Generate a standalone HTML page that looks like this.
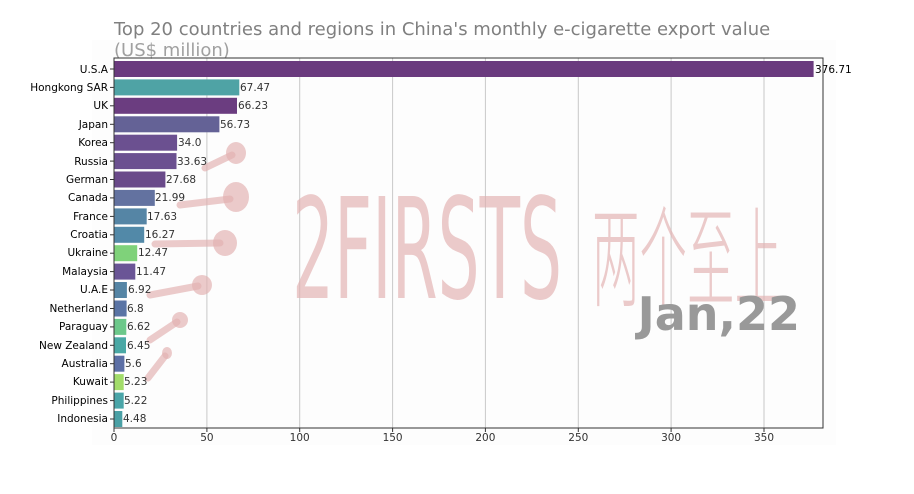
<!DOCTYPE html>
<html><head><meta charset="utf-8"><style>
body{margin:0;background:#fff;width:914px;height:489px;overflow:hidden}
svg{font-family:"DejaVu Sans","Liberation Sans",sans-serif}
</style></head><body>
<svg width="914" height="489" xmlns="http://www.w3.org/2000/svg">
<rect width="914" height="489" fill="#fff"/>
<rect x="92" y="40" width="744" height="405" fill="#fdfdfd"/>
<text x="114" y="35" font-size="18" fill="#808080">Top 20 countries and regions in China's monthly e-cigarette export value</text>
<text x="114" y="56" font-size="18" fill="#a0a0a0">(US$ million)</text>
<g stroke="#c8c8c8" stroke-width="1">
<line x1="206.9" y1="58" x2="206.9" y2="428"/><line x1="299.7" y1="58" x2="299.7" y2="428"/>
<line x1="392.6" y1="58" x2="392.6" y2="428"/><line x1="485.4" y1="58" x2="485.4" y2="428"/>
<line x1="578.3" y1="58" x2="578.3" y2="428"/><line x1="671.1" y1="58" x2="671.1" y2="428"/>
<line x1="764" y1="58" x2="764" y2="428"/>
</g>
<g fill="#e2b0b0" opacity="0.65">
<text x="292" y="298" font-size="140" textLength="270" lengthAdjust="spacingAndGlyphs" font-family="DejaVu Sans Condensed, DejaVu Sans, sans-serif" font-weight="300">2FIRSTS</text>
<text x="592" y="298" font-size="110" textLength="190" lengthAdjust="spacingAndGlyphs" font-family="Noto Sans CJK SC, sans-serif" font-weight="300">两个至上</text>
<ellipse cx="236" cy="153" rx="10" ry="11"/><ellipse cx="236" cy="197" rx="13" ry="15"/>
<ellipse cx="225" cy="243" rx="12" ry="13"/><ellipse cx="202" cy="285" rx="10" ry="10"/>
<ellipse cx="180" cy="320" rx="8" ry="8"/><ellipse cx="167" cy="353" rx="5" ry="6"/>
</g>
<g stroke="#e2b0b0" opacity="0.65" stroke-width="7" stroke-linecap="round">
<line x1="205" y1="168" x2="232" y2="155"/><line x1="180" y1="205" x2="230" y2="199"/>
<line x1="155" y1="244" x2="220" y2="243"/><line x1="150" y1="295" x2="198" y2="286"/>
<line x1="150" y1="340" x2="177" y2="322"/><line x1="148" y1="378" x2="165" y2="356"/>
</g>
<g>
<rect x="114" y="61" width="699.6" height="16" fill="#6a3a7e"/>
<rect x="114" y="79.4" width="125.3" height="16" fill="#4fa3a5"/>
<rect x="114" y="97.8" width="123" height="16" fill="#6b3d80"/>
<rect x="114" y="116.3" width="105.4" height="16" fill="#646296"/>
<rect x="114" y="134.7" width="63.1" height="16" fill="#6b5090"/>
<rect x="114" y="153.1" width="62.5" height="16" fill="#6b5090"/>
<rect x="114" y="171.5" width="51.4" height="16" fill="#6a4a8a"/>
<rect x="114" y="189.9" width="40.8" height="16" fill="#6372a0"/>
<rect x="114" y="208.4" width="32.7" height="16" fill="#5585a5"/>
<rect x="114" y="226.8" width="30.2" height="16" fill="#5289a8"/>
<rect x="114" y="245.2" width="23.2" height="16" fill="#7fd27a"/>
<rect x="114" y="263.6" width="21.3" height="16" fill="#6a5596"/>
<rect x="114" y="282" width="12.9" height="16" fill="#5585a5"/>
<rect x="114" y="300.5" width="12.6" height="16" fill="#5a74a5"/>
<rect x="114" y="318.9" width="12.3" height="16" fill="#6cc88a"/>
<rect x="114" y="337.3" width="12" height="16" fill="#4aa8a5"/>
<rect x="114" y="355.7" width="10.4" height="16" fill="#5c6fa5"/>
<rect x="114" y="374.1" width="9.7" height="16" fill="#a2dc6a"/>
<rect x="114" y="392.6" width="9.7" height="16" fill="#4aa5a8"/>
<rect x="114" y="411" width="8.3" height="16" fill="#4aa0a5"/>
</g>
<g font-size="10.5" fill="#333">
<text x="815" y="73" fill="#000">376.71</text>
<text x="240" y="91">67.47</text><text x="238" y="109">66.23</text><text x="220" y="128">56.73</text>
<text x="178" y="146">34.0</text><text x="177" y="165">33.63</text><text x="166" y="183">27.68</text>
<text x="155" y="201">21.99</text><text x="147" y="220">17.63</text><text x="145" y="238">16.27</text>
<text x="138" y="256">12.47</text><text x="136" y="275">11.47</text><text x="128" y="293">6.92</text>
<text x="127" y="312">6.8</text><text x="127" y="330">6.62</text><text x="127" y="349">6.45</text>
<text x="125" y="367">5.6</text><text x="124" y="385">5.23</text><text x="124" y="404">5.22</text>
<text x="123" y="422">4.48</text>
</g>
<g font-size="10.5" fill="#000" text-anchor="end">
<text x="108" y="73">U.S.A</text><text x="108" y="91">Hongkong SAR</text><text x="108" y="109">UK</text>
<text x="108" y="128">Japan</text><text x="108" y="146">Korea</text><text x="108" y="165">Russia</text>
<text x="108" y="183">German</text><text x="108" y="201">Canada</text><text x="108" y="220">France</text>
<text x="108" y="238">Croatia</text><text x="108" y="256">Ukraine</text><text x="108" y="275">Malaysia</text>
<text x="108" y="293">U.A.E</text><text x="108" y="312">Netherland</text><text x="108" y="330">Paraguay</text>
<text x="108" y="349">New Zealand</text><text x="108" y="367">Australia</text><text x="108" y="385">Kuwait</text>
<text x="108" y="404">Philippines</text><text x="108" y="422">Indonesia</text>
</g>
<g stroke="#333" stroke-width="1">
<line x1="110" y1="69" x2="114" y2="69"/><line x1="110" y1="87.4" x2="114" y2="87.4"/><line x1="110" y1="105.8" x2="114" y2="105.8"/>
<line x1="110" y1="124.3" x2="114" y2="124.3"/><line x1="110" y1="142.7" x2="114" y2="142.7"/><line x1="110" y1="161.1" x2="114" y2="161.1"/>
<line x1="110" y1="179.5" x2="114" y2="179.5"/><line x1="110" y1="197.9" x2="114" y2="197.9"/><line x1="110" y1="216.4" x2="114" y2="216.4"/>
<line x1="110" y1="234.8" x2="114" y2="234.8"/><line x1="110" y1="253.2" x2="114" y2="253.2"/><line x1="110" y1="271.6" x2="114" y2="271.6"/>
<line x1="110" y1="290" x2="114" y2="290"/><line x1="110" y1="308.5" x2="114" y2="308.5"/><line x1="110" y1="326.9" x2="114" y2="326.9"/>
<line x1="110" y1="345.3" x2="114" y2="345.3"/><line x1="110" y1="363.7" x2="114" y2="363.7"/><line x1="110" y1="382.1" x2="114" y2="382.1"/>
<line x1="110" y1="400.6" x2="114" y2="400.6"/><line x1="110" y1="419" x2="114" y2="419"/>
<line x1="114" y1="428" x2="114" y2="432"/><line x1="206.9" y1="428" x2="206.9" y2="432"/><line x1="299.7" y1="428" x2="299.7" y2="432"/>
<line x1="392.6" y1="428" x2="392.6" y2="432"/><line x1="485.4" y1="428" x2="485.4" y2="432"/><line x1="578.3" y1="428" x2="578.3" y2="432"/>
<line x1="671.1" y1="428" x2="671.1" y2="432"/><line x1="764" y1="428" x2="764" y2="432"/>
</g>
<rect x="114" y="58" width="709" height="370" fill="none" stroke="#333" stroke-width="1"/>
<g font-size="10.5" fill="#333" text-anchor="middle">
<text x="114" y="441">0</text><text x="206.9" y="441">50</text><text x="299.7" y="441">100</text><text x="392.6" y="441">150</text>
<text x="485.4" y="441">200</text><text x="578.3" y="441">250</text><text x="671.1" y="441">300</text><text x="764" y="441">350</text>
</g>
<text x="800" y="330" font-size="46" font-weight="bold" fill="#999" text-anchor="end">Jan,22</text>
</svg>
</body></html>
